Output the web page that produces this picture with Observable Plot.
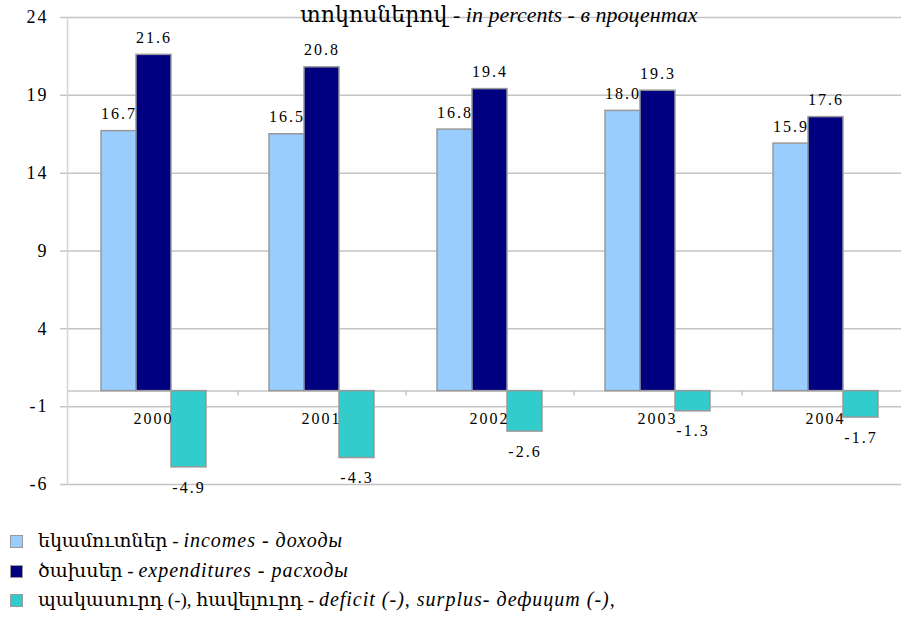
<!DOCTYPE html>
<html><head><meta charset="utf-8">
<script src="https://cdn.jsdelivr.net/npm/d3@7"></script>
<script src="https://cdn.jsdelivr.net/npm/@observablehq/plot@0.6"></script>
<style>
body{margin:0;background:#fff;font-family:"Liberation Serif","Times New Roman","DejaVu Serif","DejaVu Sans",serif;color:#000;}
#wrap{position:relative;width:901px;height:620px;overflow:hidden;background:#fff;}
#bg,#fg{position:absolute;left:0;top:0;}
#wrap svg text{letter-spacing:2px;}
#title{position:absolute;left:0;width:998px;top:4px;text-align:center;font-size:22px;line-height:22px;white-space:nowrap;}
#legend{position:absolute;left:0;top:526px;font-size:19px;}
.row{position:relative;height:29.5px;line-height:29.5px;padding-left:38px;white-space:nowrap;}
.row i{font-size:20px;letter-spacing:1px;}
.sw{position:absolute;left:10px;top:9px;width:11px;height:11px;border:1.5px solid #999;}
i{font-style:italic;}
</style>
</head><body>
<div id="wrap">
<div id="bg"></div>
<div id="fg"></div>
<div id="title">տոկոսներով - <i>in percents - в процентах</i></div>
<div id="legend"></div>
</div>
<script>
const years = ["2000","2001","2002","2003","2004"];
const incomes = [16.7,16.5,16.8,18.0,15.9];
const expenditures = [21.6,20.8,19.4,19.3,17.6];
const deficit = [-4.9,-4.3,-2.6,-1.3,-1.7];
const yTicks = [-6,-1,4,9,14,19,24];
const seriesKeys = ["incomes","expenditures","deficit"];
const seriesColors = ["#99ccff","#000080","#33cccc"];
const legendArm = ["եկամուտներ - ","ծախսեր - ","պակասուրդ (-), հավելուրդ - "];
const legendIt = ["incomes - доходы","expenditures - расходы","deficit (-), surplus- дефицит (-),"];

const values = {incomes, expenditures, deficit};
const rows = years.flatMap((y,i)=>seriesKeys.map(s=>({year:y, series:s, value:values[s][i]})));

const font = '"Liberation Serif","Times New Roman","DejaVu Serif","DejaVu Sans",serif';
const common = {
  width:901, height:500,
  marginLeft:67, marginRight:0, marginTop:17, marginBottom:16,
  y:{domain:[-6,24], axis:null}
};

// background: grid, floor, wall and y labels
const bg = Plot.plot({
  ...common,
  style:{fontFamily:font, fontSize:"18px", color:"#000", background:"#fff", overflow:"visible"},
  marks:[
    Plot.ruleY(yTicks, {stroke:"#c4c4c4", strokeWidth:1.5, insetLeft:-7}),
    Plot.ruleY([0], {stroke:"#c4c4c4", strokeWidth:1.5}),
    Plot.frame({anchor:"left", stroke:"#d4d4d4", strokeWidth:1.5}),
    Plot.text(yTicks, {y:d=>d, text:d=>String(d), frameAnchor:"left", textAnchor:"end", dx:-19, fontSize:18})
  ]
});
document.getElementById("bg").appendChild(bg);

// foreground: bars and labels, faceted by year
const fg = Plot.plot({
  ...common,
  style:{fontFamily:font, fontSize:"16px", color:"#000", background:"transparent", overflow:"visible"},
  fx:{domain:years, paddingInner:0.367, paddingOuter:0.161, align:0.6, axis:null},
  x:{domain:seriesKeys, padding:0, axis:null},
  color:{domain:seriesKeys, range:seriesColors},
  marks:[
    Plot.ruleX(years.slice(1), {fx:d=>d, x:()=>"incomes", y1:()=>0, y2:()=>0, insetBottom:-5, dx:-49, stroke:"#c4c4c4", strokeWidth:1.5}),
    Plot.barY(rows, {fx:"year", x:"series", y:"value", fill:"series", stroke:"#999", strokeWidth:1.5}),
    Plot.text(rows.filter(d=>d.value>=0), {fx:"year", x:"series", y:"value", text:d=>d.value.toFixed(1), dy:-17}),
    Plot.text(rows.filter(d=>d.value<0), {fx:"year", x:"series", y:"value", text:d=>d.value.toFixed(1), dy:20}),
    Plot.text(years, {fx:d=>d, y:()=>0, text:d=>d, dy:28})
  ]
});
document.getElementById("fg").appendChild(fg);

const leg = document.getElementById("legend");
seriesKeys.forEach((s,i)=>{
  const r = document.createElement("div");
  r.className = "row";
  r.innerHTML = `<span class="sw" style="background:${seriesColors[i]}"></span>${legendArm[i]}<i>${legendIt[i]}</i>`;
  leg.appendChild(r);
});
</script>
</body></html>
